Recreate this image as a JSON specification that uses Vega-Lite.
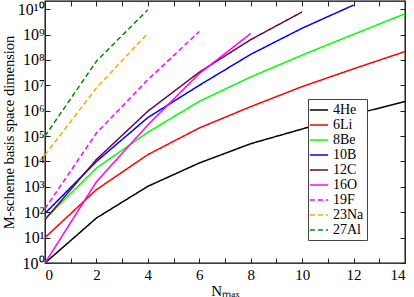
{
  "$schema": "https://vega.github.io/schema/vega-lite/v6.json",
  "width": 360,
  "height": 262,
  "autosize": {"type": "none"},
  "padding": {"left": 45, "top": 1, "right": 9, "bottom": 34},
  "background": "white",
  "config": {
    "font": "Liberation Serif",
    "view": {"stroke": "black", "strokeWidth": 1.3},
    "axis": {"grid": false, "domain": false, "tickColor": "#222", "tickWidth": 1, "labelColor": "black", "titleColor": "black", "labelFont": "Liberation Serif", "titleFont": "Liberation Serif", "titleFontWeight": "normal"},
    "legend": {"labelFont": "Liberation Serif"}
  },
  "data": {
    "values": [
      {"nucleus": "4He", "nmax": 0, "dim": 1},
      {"nucleus": "4He", "nmax": 2, "dim": 59},
      {"nucleus": "4He", "nmax": 4, "dim": 1050},
      {"nucleus": "4He", "nmax": 6, "dim": 8710},
      {"nucleus": "4He", "nmax": 8, "dim": 50100},
      {"nucleus": "4He", "nmax": 10, "dim": 190500},
      {"nucleus": "4He", "nmax": 12, "dim": 707900},
      {"nucleus": "4He", "nmax": 14, "dim": 2290000},
      {"nucleus": "6Li", "nmax": 0, "dim": 10},
      {"nucleus": "6Li", "nmax": 2, "dim": 776},
      {"nucleus": "6Li", "nmax": 4, "dim": 18600},
      {"nucleus": "6Li", "nmax": 6, "dim": 208900},
      {"nucleus": "6Li", "nmax": 8, "dim": 1445000},
      {"nucleus": "6Li", "nmax": 10, "dim": 8910000},
      {"nucleus": "6Li", "nmax": 12, "dim": 44700000},
      {"nucleus": "6Li", "nmax": 14, "dim": 214000000},
      {"nucleus": "8Be", "nmax": 0, "dim": 55},
      {"nucleus": "8Be", "nmax": 2, "dim": 5495},
      {"nucleus": "8Be", "nmax": 4, "dim": 141000},
      {"nucleus": "8Be", "nmax": 6, "dim": 2340000},
      {"nucleus": "8Be", "nmax": 8, "dim": 21400000},
      {"nucleus": "8Be", "nmax": 10, "dim": 155000000},
      {"nucleus": "8Be", "nmax": 12, "dim": 1020000000},
      {"nucleus": "8Be", "nmax": 14, "dim": 6600000000},
      {"nucleus": "10B", "nmax": 0, "dim": 90},
      {"nucleus": "10B", "nmax": 2, "dim": 10000},
      {"nucleus": "10B", "nmax": 4, "dim": 537000},
      {"nucleus": "10B", "nmax": 6, "dim": 10000000},
      {"nucleus": "10B", "nmax": 8, "dim": 166000000},
      {"nucleus": "10B", "nmax": 10, "dim": 1780000000},
      {"nucleus": "10B", "nmax": 12, "dim": 14500000000},
      {"nucleus": "12C", "nmax": 0, "dim": 51},
      {"nucleus": "12C", "nmax": 2, "dim": 12000},
      {"nucleus": "12C", "nmax": 4, "dim": 955000},
      {"nucleus": "12C", "nmax": 6, "dim": 33000000},
      {"nucleus": "12C", "nmax": 8, "dim": 630000000},
      {"nucleus": "12C", "nmax": 10, "dim": 7800000000},
      {"nucleus": "16O", "nmax": 0, "dim": 1},
      {"nucleus": "16O", "nmax": 2, "dim": 1585},
      {"nucleus": "16O", "nmax": 4, "dim": 275000},
      {"nucleus": "16O", "nmax": 6, "dim": 29000000},
      {"nucleus": "16O", "nmax": 8, "dim": 1100000000},
      {"nucleus": "19F", "nmax": 0, "dim": 138},
      {"nucleus": "19F", "nmax": 2, "dim": 132000},
      {"nucleus": "19F", "nmax": 4, "dim": 16600000},
      {"nucleus": "19F", "nmax": 6, "dim": 1320000000},
      {"nucleus": "23Na", "nmax": 0, "dim": 17800},
      {"nucleus": "23Na", "nmax": 2, "dim": 7900000},
      {"nucleus": "23Na", "nmax": 4, "dim": 1120000000},
      {"nucleus": "27Al", "nmax": 0, "dim": 100000},
      {"nucleus": "27Al", "nmax": 2, "dim": 89000000},
      {"nucleus": "27Al", "nmax": 4, "dim": 9500000000}
    ]
  },
  "resolve": {"axis": {"x": "independent", "y": "independent"}},
  "layer": [
    {
      "mark": {"type": "line", "strokeWidth": 1.5, "clip": true},
      "encoding": {
        "x": {
          "field": "nmax", "type": "quantitative",
          "scale": {"domain": [0, 14], "nice": false, "zero": false},
          "axis": {
            "orient": "bottom",
            "title": "Nₘₐₓ",
            "titleFontSize": 15,
            "titlePadding": 1,
            "values": [0,1,2,3,4,5,6,7,8,9,10,11,12,13,14],
            "labelExpr": "datum.value % 2 == 0 ? datum.label : ''",
            "labelFontSize": 15,
            "labelPadding": 9,
            "tickSize": -5
          }
        },
        "y": {
          "field": "dim", "type": "quantitative",
          "scale": {"type": "log", "domain": [1, 21000000000], "nice": false},
          "axis": {
            "orient": "left",
            "title": "M-scheme basis space dimension",
            "titleFontSize": 14.5,
            "titlePadding": 1,
            "values": [1, 10, 100, 1000, 10000, 100000, 1000000, 10000000, 100000000, 1000000000, 10000000000],
            "labelExpr": "datum.value >= 1e10 ? '10¹⁰' : '10' + substring('⁰¹²³⁴⁵⁶⁷⁸⁹', round(log(datum.value)/LN10), round(log(datum.value)/LN10) + 1)",
            "labelFontSize": 16,
            "labelPadding": 6,
            "tickSize": -5
          }
        },
        "color": {
          "field": "nucleus", "type": "nominal",
          "scale": {
            "domain": ["4He", "6Li", "8Be", "10B", "12C", "16O", "19F", "23Na", "27Al"],
            "range": ["#000000", "#ff0000", "#00ff00", "#0000ff", "#670748", "#ff00ff", "#ff00ff", "#ffa500", "#008b00"]
          },
          "legend": {
            "title": null,
            "orient": "none",
            "legendX": 263,
            "legendY": 98,
            "symbolType": "M-1.3,0H1.3",
            "symbolSize": 196,
            "symbolStrokeWidth": 1.5,
            "labelFontSize": 14,
            "labelOffset": 6,
            "rowPadding": 0,
            "padding": 3,
            "strokeColor": "#444",
            "fillColor": "white"
          }
        },
        "strokeDash": {
          "field": "nucleus", "type": "nominal",
          "scale": {
            "domain": ["4He", "6Li", "8Be", "10B", "12C", "16O", "19F", "23Na", "27Al"],
            "range": [[1, 0], [1, 0], [1, 0], [1, 0], [1, 0], [1, 0], [5, 3], [5, 3], [5, 3]]
          },
          "legend": {
            "title": null,
            "orient": "none",
            "legendX": 263,
            "legendY": 98,
            "symbolType": "M-1.3,0H1.3",
            "symbolSize": 196,
            "symbolStrokeWidth": 1.5,
            "labelFontSize": 14,
            "labelOffset": 6,
            "rowPadding": 0,
            "padding": 3,
            "strokeColor": "#444",
            "fillColor": "white"
          }
        }
      }
    },
    {
      "mark": {"type": "point", "opacity": 0},
      "encoding": {
        "x": {
          "field": "nmax", "type": "quantitative",
          "scale": {"domain": [0, 14], "nice": false, "zero": false},
          "axis": {"orient": "top", "title": null, "labels": false, "values": [0,1,2,3,4,5,6,7,8,9,10,11,12,13,14], "tickSize": -5}
        },
        "y": {
          "field": "dim", "type": "quantitative",
          "scale": {"type": "log", "domain": [1, 21000000000], "nice": false},
          "axis": {"orient": "right", "title": null, "labels": false, "values": [1, 10, 100, 1000, 10000, 100000, 1000000, 10000000, 100000000, 1000000000, 10000000000], "tickSize": -5}
        }
      }
    }
  ]
}
